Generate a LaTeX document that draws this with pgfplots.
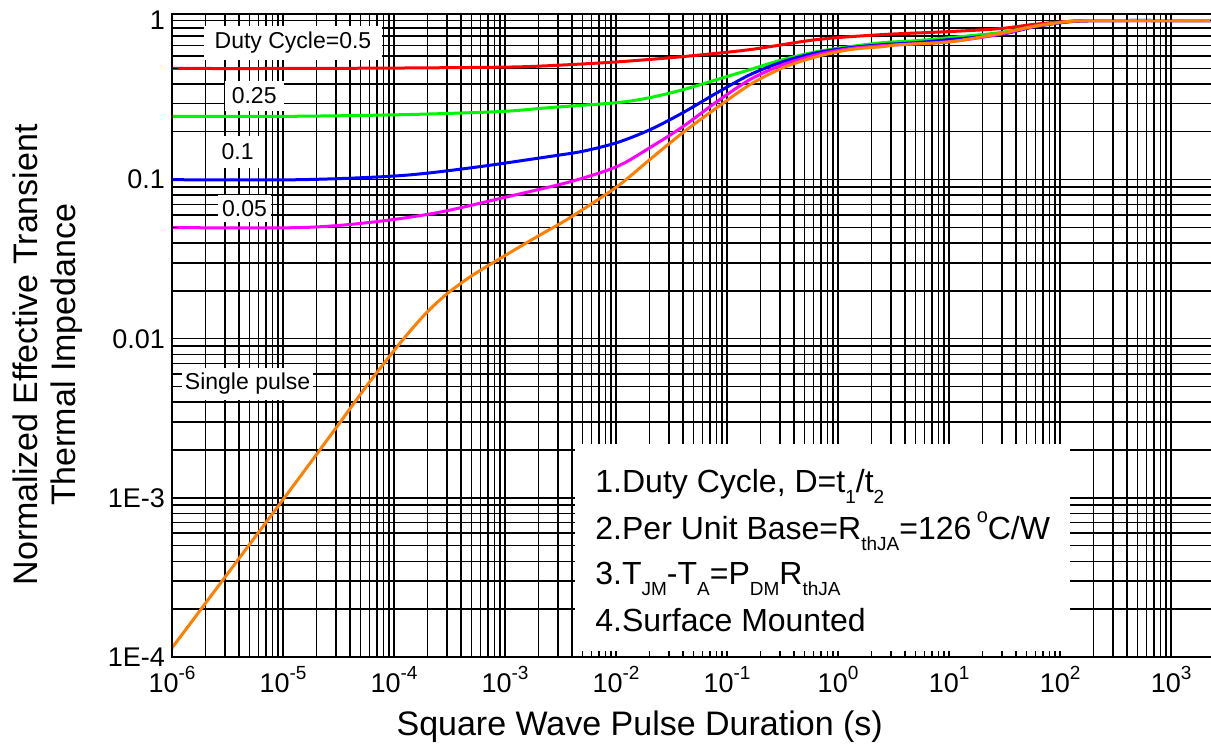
\documentclass[border=0pt]{standalone}
\usepackage{fontspec}
\setmainfont{Liberation Sans}
\usepackage{pgfplots}
\pgfplotsset{compat=1.18}
\pgfplotsset{
  layers/gridbehind/.define layer set={axis background,axis grid,pre main,main,axis ticks,axis lines,axis tick labels,axis descriptions,axis foreground}{
    grid style={/pgfplots/on layer=axis grid},
    tick style={/pgfplots/on layer=axis ticks},
    axis line style={/pgfplots/on layer=axis lines},
    label style={/pgfplots/on layer=axis descriptions},
    legend style={/pgfplots/on layer=axis descriptions},
    title style={/pgfplots/on layer=axis descriptions},
    ticklabel style={/pgfplots/on layer=axis tick labels},
  },
}
\definecolor{cRed}{RGB}{255,0,0}
\definecolor{cGreen}{RGB}{0,245,0}
\definecolor{cBlue}{RGB}{0,0,255}
\definecolor{cMag}{RGB}{255,0,255}
\definecolor{cOrange}{RGB}{255,128,0}
\newcommand\sub[1]{\raisebox{-0.32em}{\fontsize{9.5}{10}\selectfont #1}}
\newcommand\sps[1]{\raisebox{0.55em}{\fontsize{10}{10}\selectfont #1}}
\newcommand\tl[1]{10\raisebox{0.5em}{\fontsize{9.5}{10}\selectfont #1}}
\begin{document}
\begin{tikzpicture}
\begin{axis}[
  at={(0pt,0pt)}, anchor=south west,
  scale only axis, width=522pt, height=321.5pt,
  xmode=log, ymode=log,
  xmin=1e-6, xmax=2540, ymin=1e-4, ymax=1.1,
  xtick={1e-6,1e-5,1e-4,1e-3,1e-2,1e-1,1,10,100,1000},
  xticklabels={\tl{-6},\tl{-5},\tl{-4},\tl{-3},\tl{-2},\tl{-1},\tl{0},\tl{1},\tl{2},\tl{3}},
  ytick={1e-4,1e-3,1e-2,1e-1,1},
  yticklabels={1E-4,1E-3,0.01,0.1,1},
  grid=both,
  major grid style={black,line width=0.7pt},
  minor grid style={black,line width=0.7pt},
  tick style={black,line width=0.7pt},
  major tick length=3pt, minor tick length=3pt,
  tick align=inside,
  axis line style={black,line width=1pt},
  ticklabel style={font=\fontsize{13.5}{15}\selectfont},
  xticklabel style={yshift=-1pt},
  label style={font=\fontsize{17}{19}\selectfont},
  xlabel={Square Wave Pulse Duration (s)},
  ylabel={Normalized Effective Transient\\Thermal Impedance},
  xlabel style={at={(ticklabel cs:0.448,2pt)}},
  ylabel style={align=center, at={(ticklabel cs:0.47,6pt)}},
  set layers=gridbehind,
  every axis plot/.append style={line width=1.5pt, smooth, tension=0.5},
]
\addplot[cRed] coordinates {
 (1e-6,0.5) (1e-5,0.5) (1e-4,0.503) (1e-3,0.51) (2.54e-3,0.521) (0.0102,0.55) (0.0402,0.594) (0.161,0.657) (0.647,0.76) (2.54,0.817) (10.2,0.853) (28.8,0.89) (57,0.945) (115,0.985) (230,1.0) (2540,1.0)};
\addplot[cGreen] coordinates {
 (1e-6,0.25) (1e-5,0.25) (1.13e-4,0.256) (9e-4,0.268) (2.54e-3,0.284) (0.0102,0.305) (0.0202,0.328) (0.0402,0.368) (0.0813,0.426) (0.161,0.492) (0.32,0.569) (0.647,0.638) (1.28,0.686) (2.54,0.727) (5.15,0.748) (10.2,0.782) (28.8,0.84) (57,0.917) (115,0.98) (230,1.0) (2540,1.0)};
\addplot[cBlue] coordinates {
 (1e-6,0.1) (1.42e-5,0.1) (1.13e-4,0.106) (5.05e-4,0.119) (2.54e-3,0.140) (5.05e-3,0.151) (0.0102,0.171) (0.0202,0.206) (0.0402,0.264) (0.0813,0.352) (0.161,0.457) (0.32,0.552) (0.647,0.629) (1.28,0.676) (2.54,0.706) (5.15,0.727) (10.2,0.76) (28.8,0.817) (57,0.91) (115,0.98) (230,1.0) (2540,1.0)};
\addplot[cMag] coordinates {
 (1e-6,0.05) (1.42e-5,0.05) (6.08e-5,0.0539) (2.44e-4,0.062) (9.6e-4,0.077) (3.85e-3,0.097) (0.0102,0.121) (0.0202,0.159) (0.0402,0.216) (0.0813,0.31) (0.161,0.426) (0.32,0.529) (0.647,0.611) (1.28,0.667) (2.54,0.696) (10.2,0.738) (28.8,0.82) (57,0.915) (115,0.985) (230,1.0) (2540,1.0)};
\addplot[cOrange] coordinates {
 (1e-6,1.14e-4) (1e-5,9.75e-4) (3e-5,2.75e-3) (6.08e-5,5.4e-3) (1.2e-4,9.86e-3) (2e-4,0.0148) (3.0e-4,0.0192)};
\addplot[cOrange] coordinates {
 (3.0e-4,0.0192) (4.84e-4,0.0245) (9.6e-4,0.0328) (1.94e-3,0.0438) (3.85e-3,0.0577) (0.0102,0.0904) (0.0202,0.134) (0.0402,0.198) (0.0813,0.284) (0.161,0.396) (0.32,0.506) (0.647,0.594) (1.28,0.657) (2.54,0.686) (3.62,0.706) (10.2,0.735) (28.8,0.83) (57,0.917) (115,0.985) (230,1.0) (2540,1.0)};
% label boxes
\node[fill=white, inner xsep=5.5pt, inner ysep=0pt, minimum height=17pt, font=\fontsize{11.5}{13}\selectfont] at (axis cs:1.23e-5,0.727) {Duty Cycle=0.5};
\node[fill=white, inner xsep=3.5pt, inner ysep=0pt, minimum height=15pt, font=\fontsize{11.5}{13}\selectfont] at (axis cs:5.5e-6,0.337) {0.25};
\node[fill=white, inner xsep=2.5pt, inner ysep=0pt, minimum height=16pt, font=\fontsize{11.5}{13}\selectfont] at (axis cs:3.9e-6,0.150) {0.1};
\node[fill=white, inner xsep=2pt, inner ysep=0pt, minimum height=13.5pt, font=\fontsize{11.5}{13}\selectfont] at (axis cs:4.5e-6,0.0657) {0.05};
\node[fill=white, inner xsep=1.5pt, inner ysep=0pt, minimum height=16pt, font=\fontsize{11.5}{13}\selectfont] at (axis cs:4.8e-6,0.00521) {Single pulse};
% notes box
\fill[white] (axis cs:4.28e-3,1e-4) rectangle (axis cs:123,2.19e-3);
\node[anchor=base west, inner sep=0pt, font=\fontsize{16}{19}\selectfont] at (axis cs:6.47e-3,1.075e-3) {1.Duty Cycle, D=t\sub{1}/t\sub{2}};
\node[anchor=base west, inner sep=0pt, font=\fontsize{16}{19}\selectfont] at (axis cs:6.47e-3,5.44e-4) {2.Per Unit Base=R\sub{thJA}=126\,\sps{o}C/W};
\node[anchor=base west, inner sep=0pt, font=\fontsize{16}{19}\selectfont] at (axis cs:6.47e-3,2.84e-4) {3.T\sub{JM}-T\sub{A}=P\sub{DM}R\sub{thJA}};
\node[anchor=base west, inner sep=0pt, font=\fontsize{16}{19}\selectfont] at (axis cs:6.47e-3,1.44e-4) {4.Surface Mounted};
\end{axis}
\pgfresetboundingbox
\path (-86pt,-47pt) rectangle (519.5pt,328.5pt);
\end{tikzpicture}
\end{document}
